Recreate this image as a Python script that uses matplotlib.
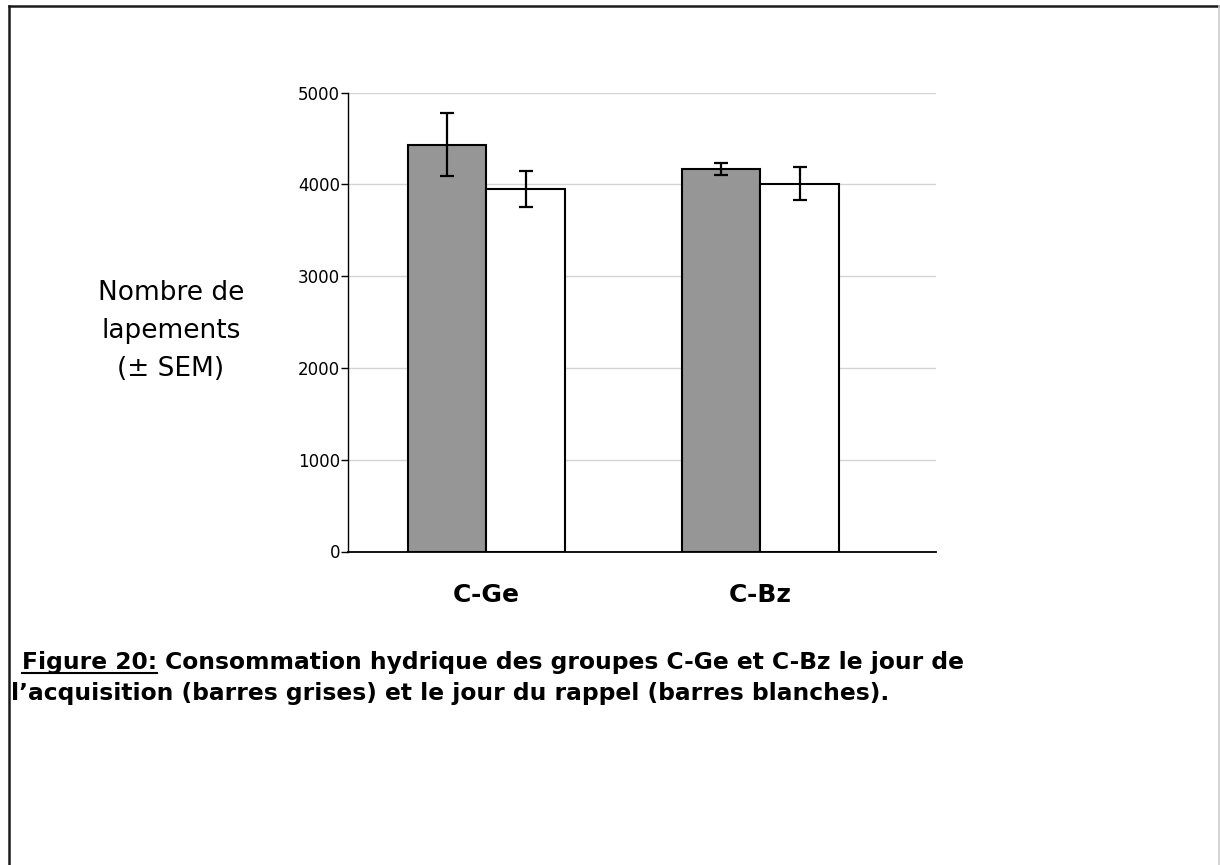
import matplotlib
matplotlib.use("Agg")
import matplotlib.pyplot as plt
from matplotlib.lines import Line2D
import numpy as np

# ---- data ----
categories = ["C-Ge", "C-Bz"]
acquisition = [4435, 4166]      # grey bars
acquisition_sem = [340, 64]
rappel = [3950, 4010]           # white bars
rappel_sem = [198, 175]
yticks = [0, 1000, 2000, 3000, 4000, 5000]

W, H = 1220, 865
fig = plt.figure(figsize=(W / 100, H / 100), dpi=100)
fig.patch.set_facecolor("white")

ax = fig.add_axes([348.3 / W, 1 - 551.5 / H, (936 - 348.3) / W, (551.5 - 92.7) / H])

x = np.arange(len(categories))
bw = 0.2865
err_kw = dict(ecolor="black", elinewidth=1.6, capsize=5, capthick=1.6)
ax.bar(x - bw / 2, acquisition, bw, yerr=acquisition_sem, color="#969696",
       edgecolor="black", linewidth=1.5, error_kw=err_kw, zorder=3)
ax.bar(x + bw / 2, rappel, bw, yerr=rappel_sem, color="white",
       edgecolor="black", linewidth=1.5, error_kw=err_kw, zorder=3)

ax.set_xlim(-0.504, 1.641)
ax.set_ylim(0, 5000)
ax.set_yticks(yticks)
ax.set_yticklabels([str(v) for v in yticks], fontsize=12, family="DejaVu Sans")
ax.yaxis.grid(True, color="#d4d4d4", linewidth=1)
ax.set_axisbelow(True)
ax.tick_params(axis="y", length=5, width=1, pad=1, color="black")

ax.set_xticks(x)
ax.set_xticklabels(categories, fontsize=18, fontweight="bold", family="DejaVu Sans")
ax.tick_params(axis="x", length=0, pad=23)

for s in ["top", "right"]:
    ax.spines[s].set_visible(False)
ax.spines["left"].set_linewidth(1)
ax.spines["bottom"].set_linewidth(1.3)

fig.text(171 / W, 1 - 331 / H, "Nombre de\nlapements\n(± SEM)", ha="center",
         va="center", fontsize=19, linespacing=1.6, family="DejaVu Sans")

# ---- caption ----
cap_fs = 16.8
fig.canvas.draw()
r = fig.canvas.get_renderer()
y1 = 1 - 669 / H
t1 = fig.text(22 / W, y1, "Figure 20:", fontsize=cap_fs, fontweight="bold",
              va="baseline", ha="left", family="DejaVu Sans")
bb = t1.get_window_extent(r)
x_end = bb.x1 / W
fig.add_artist(Line2D([22 / W, x_end], [y1 - 4 / H, y1 - 4 / H], color="black",
                      linewidth=1.5, transform=fig.transFigure))
fig.text(x_end, y1, " Consommation hydrique des groupes C-Ge et C-Bz le jour de",
         fontsize=cap_fs, fontweight="bold", va="baseline", ha="left", family="DejaVu Sans")
fig.text(11 / W, 1 - 700 / H,
         "l\u2019acquisition (barres grises) et le jour du rappel (barres blanches).",
         fontsize=cap_fs, fontweight="bold", va="baseline", ha="left", family="DejaVu Sans")

# ---- page border ----
fig.add_artist(Line2D([8.5 / W, 8.5 / W], [0, 1 - 6 / H], color="#1a1a1a",
                      linewidth=1.8, transform=fig.transFigure))
fig.add_artist(Line2D([8.5 / W, 1], [1 - 6 / H, 1 - 6 / H], color="#1a1a1a",
                      linewidth=1.8, transform=fig.transFigure))
fig.add_artist(Line2D([1218.5 / W, 1218.5 / W], [0, 1 - 6 / H], color="#cccccc",
                      linewidth=1.2, transform=fig.transFigure))

fig.savefig("out.png", dpi=100, facecolor="white")
